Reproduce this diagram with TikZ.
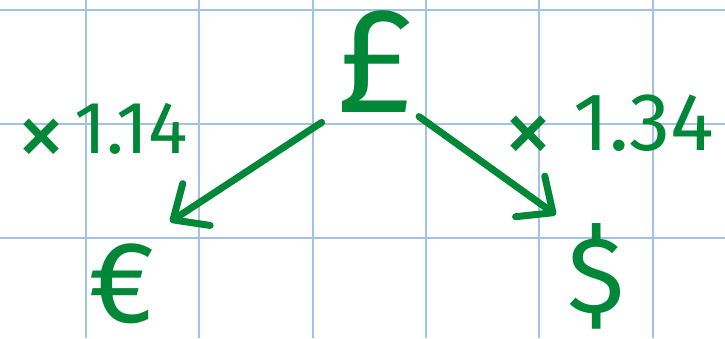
\documentclass[tikz,border=0pt]{standalone}
\usepackage{fontspec}
\setmainfont{Fira Sans}
\usetikzlibrary{arrows.meta}
\definecolor{inkgreen}{RGB}{0,136,56}
\definecolor{gridblue}{RGB}{164,194,228}
\newcommand{\bigtimes}{\raisebox{-14pt}{\fontsize{100}{72}\selectfont ×}}

\begin{document}
\begin{tikzpicture}[
  x=1pt, y=-1pt,
  sym/.style={inner sep=0pt, text=inkgreen},
  rate/.style={inner sep=0pt, text=inkgreen, font=\fontsize{74}{74}\selectfont},
  arrow/.style={-{Straight Barb[length=28pt,width=50pt,round]}, line width=7pt, line cap=round, draw=inkgreen}
]
\path[use as bounding box, clip] (0,0) rectangle (725,338);
\fill[white] (0,0) rectangle (725,338);
% squared paper
\foreach \gx in {86,199,313,426,539,653}
  \draw[gridblue, line width=2pt] (\gx,0) -- (\gx,338);
\foreach \gy in {10,124,238}
  \draw[gridblue, line width=2pt] (0,\gy) -- (725,\gy);
% currencies
\node[sym, font=\fontsize{150}{150}\selectfont] (gbp) at (375,62) {£};
\node[sym, font=\fontsize{116}{116}\selectfont] (eur) at (122,284) {€};
\node[sym, font=\fontsize{108}{108}\selectfont] (usd) at (596,276) {\$};
% rates
\node[rate] (r14) at (102,135) {\bigtimes\hspace{8pt}1.14};
\node[rate, font=\fontsize{82}{82}\selectfont] (r34) at (609,130) {\bigtimes\hspace{20pt}1.34};
\draw[arrow, shorten <=17pt, shorten >=40pt] (gbp.south west) -- (eur.70);
\draw[arrow, shorten <=6pt, shorten >=14pt] (gbp.south east) -- (usd.north west);
\end{tikzpicture}
\end{document}
